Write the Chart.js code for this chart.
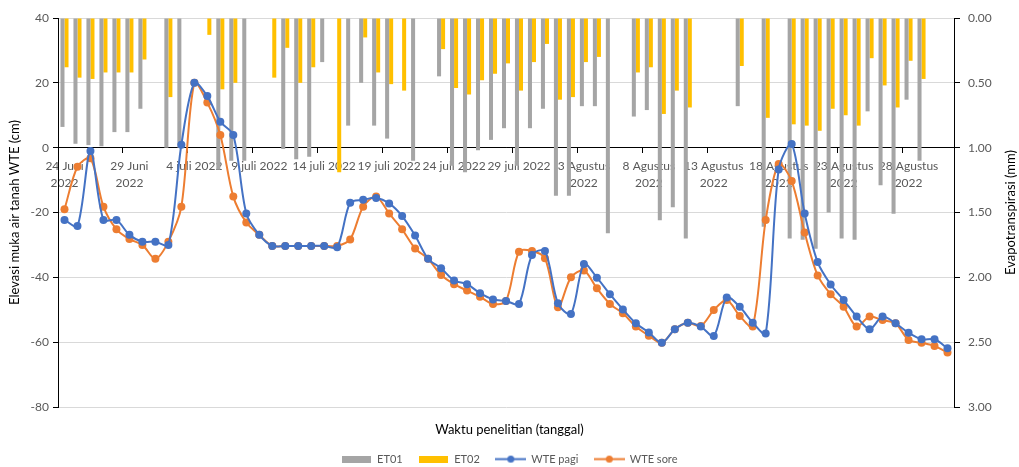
<!DOCTYPE html>
<html>
<head>
<meta charset="utf-8">
<script src="https://cdn.jsdelivr.net/npm/chart.js@4.4.0/dist/chart.umd.min.js"></script>
<style>
  html, body { margin: 0; padding: 0; background: #fff; }
  #wrap { position: relative; width: 1019px; height: 467px; }
</style>
</head>
<body>
<div id="wrap"><canvas id="chart"></canvas></div>
<script>
// Categories: one per day, 24 Juni - 31 Agustus 2022
const months = [['Juni', 24, 30], ['juli', 1, 31], ['Agustus', 1, 31]];
const days = [];
months.forEach(([m, from, to]) => {
  for (let d = from; d <= to; d++) days.push(d + ' ' + m + ' 2022');
});

// Labels shown every 5th day
const tickLabels = [
  ['24 Juni', '2022'], ['29 Juni', '2022'], '4 juli 2022', '9 juli 2022',
  '14 juli 2022', '19 juli 2022', '24 juli 2022', '29 juli 2022',
  ['3 Agustus', '2022'], ['8 Agustus', '2022'], ['13 Agustus', '2022'],
  ['18 Agustus', '2022'], ['23 Agustus', '2022'], ['28 Agustus', '2022']
];

// Evapotranspirasi (mm)
const et01 = [
  0.84, 0.97, 0.98, 0.99, 0.88, 0.88, 0.70, null, 1.00, 1.00,
  null, null, 1.17, 1.10, 1.10, null, null, 1.01, 1.09, 1.07,
  0.34, null, 0.83, 0.50, 0.83, 0.93, null, 1.10, null, 0.45,
  1.14, 1.19, 1.02, 0.94, 0.85, 1.14, 0.85, 0.70, 1.37, 1.37,
  0.68, 0.68, 1.66, null, 0.76, 0.71, 1.56, 1.46, 1.70, null,
  null, null, 0.68, null, 1.61, null, 1.70, 1.71, 1.78, 1.50,
  1.70, 1.71, 0.72, 1.29, 1.51, 0.63, 1.10, null, null
];
const et02 = [
  0.38, 0.46, 0.47, 0.42, 0.42, 0.42, 0.32, null, 0.61, null,
  null, 0.13, 0.55, 0.50, null, null, 0.46, 0.23, 0.50, 0.38,
  null, 1.19, null, 0.15, 0.42, 0.51, 0.56, null, null, 0.24,
  0.54, 0.59, 0.48, 0.43, 0.35, 0.56, 0.34, 0.20, 0.63, 0.61,
  0.34, 0.30, null, null, 0.42, 0.38, 0.74, 0.56, 0.69, null,
  null, null, 0.37, null, 0.77, null, 0.82, 0.83, 0.87, 0.70,
  0.75, 0.83, 0.31, 0.52, 0.69, 0.33, 0.47, null, null
];

// Elevasi muka air tanah (cm)
const wtePagi = [
  -22.3, -24.2, -1.0, -22.3, -22.3, -26.9, -29.0, -29.0, -30.0, 0.9,
  20.0, 15.9, 8.0, 3.9, -20.3, -26.9, -30.3, -30.3, -30.3, -30.3,
  -30.3, -30.7, -17.0, -16.1, -15.5, -17.2, -21.1, -27.1, -34.3, -37.2,
  -41.0, -42.1, -44.9, -46.8, -47.3, -48.2, -33.1, -31.9, -48.0, -51.3,
  -35.9, -40.1, -45.2, -49.9, -54.2, -57.0, -60.2, -56.0, -54.0, -55.2,
  -58.1, -46.2, -49.1, -54.0, -57.3, -6.7, 1.1, -20.3, -35.3, -42.2,
  -47.0, -52.1, -56.0, -52.1, -54.2, -57.1, -59.1, -59.1, -61.9
];
const wteSore = [
  -19.0, -5.9, -3.3, -18.2, -25.2, -28.2, -30.0, -34.3, -29.0, -18.2,
  20.0, 13.9, 3.9, -15.1, -23.1, -26.9, -30.3, -30.3, -30.3, -30.3,
  -30.3, -30.3, -28.3, -18.2, -15.1, -20.3, -25.2, -31.1, -34.3, -39.3,
  -42.1, -44.1, -46.0, -48.2, -47.3, -32.1, -31.9, -34.1, -49.2, -40.0,
  -37.9, -43.4, -48.2, -51.1, -55.2, -58.0, -60.2, -56.0, -54.0, -55.0,
  -50.1, -47.0, -51.9, -55.2, -22.3, -5.0, -10.3, -26.2, -39.4, -45.2,
  -49.1, -55.2, -52.1, -53.2, -54.2, -59.3, -60.2, -61.2, -63.2
];

const FONT = "Lato, 'Open Sans', sans-serif";
const GRAY = '#a5a5a5', YELLOW = '#ffc000', BLUE = '#4472c4', ORANGE = '#ed7d31';

// legend keys: wide rectangle for bars, line with marker for lines
function rectKey(color) {
  const c = document.createElement('canvas');
  c.width = 29; c.height = 7;
  const g = c.getContext('2d');
  g.fillStyle = color;
  g.fillRect(0, 0, 29, 7);
  return c;
}
function lineKey(color) {
  const c = document.createElement('canvas');
  c.width = 31; c.height = 9;
  const g = c.getContext('2d');
  g.strokeStyle = color; g.lineWidth = 2;
  g.beginPath(); g.moveTo(0, 4.5); g.lineTo(31, 4.5); g.stroke();
  g.fillStyle = color;
  g.beginPath(); g.arc(15.5, 4.5, 3.5, 0, Math.PI * 2); g.fill();
  return c;
}
const legendKeys = [rectKey(GRAY), rectKey(YELLOW), lineKey(BLUE), lineKey(ORANGE)];

// right axis title reads bottom-to-top like the left one
const rightTitle = {
  id: 'rightTitle',
  afterDraw(chart) {
    const { ctx, chartArea } = chart;
    ctx.save();
    ctx.translate(chart.scales.y1.right - 8, (chartArea.top + chartArea.bottom) / 2);
    ctx.rotate(-Math.PI / 2);
    ctx.font = '13px ' + FONT;
    ctx.fillStyle = '#000';
    ctx.textAlign = 'center';
    ctx.textBaseline = 'middle';
    ctx.fillText('Evapotranspirasi (mm)', 0, 0);
    ctx.restore();
  }
};

const lineStyle = (color) => ({
  type: 'line',
  yAxisID: 'y',
  order: 0,
  borderColor: color,
  backgroundColor: color,
  borderWidth: 2,
  pointRadius: 4,
  pointBorderWidth: 0,
  pointBackgroundColor: color,
  tension: 0.3
});

new Chart(document.getElementById('chart'), {
  type: 'bar',
  data: {
    labels: days,
    datasets: [
      { label: 'ET01', data: et01, yAxisID: 'y1', order: 1, backgroundColor: GRAY,
        barPercentage: 1, categoryPercentage: 0.62 },
      { label: 'ET02', data: et02, yAxisID: 'y1', order: 1, backgroundColor: YELLOW,
        barPercentage: 1, categoryPercentage: 0.62 },
      { label: 'WTE pagi', data: wtePagi, ...lineStyle(BLUE) },
      { label: 'WTE sore', data: wteSore, ...lineStyle(ORANGE) }
    ]
  },
  options: {
    responsive: true,
    maintainAspectRatio: false,
    animation: false,
    layout: { padding: { top: 18, left: 0, right: 0, bottom: -7.6 } },
    scales: {
      x: {
        position: { y: 0 },
        offset: true,
        grid: {
          offset: true,
          drawOnChartArea: false,
          tickLength: 5,
          color: (ctx) => ctx.index % 5 === 0 ? '#000' : 'rgba(0,0,0,0)'
        },
        border: { color: '#000', width: 1 },
        ticks: {
          autoSkip: false,
          maxRotation: 0,
          minRotation: 0,
          padding: 5,
          color: '#595959',
          font: { family: FONT, size: 12, lineHeight: 1.4 },
          callback: (v, i) => i % 5 === 0 ? tickLabels[i / 5] : ''
        }
      },
      y: {
        position: 'left',
        min: -80,
        max: 40,
        ticks: { stepSize: 20, padding: 4, color: '#595959', font: { family: FONT, size: 12 } },
        grid: {
          color: (ctx) => ctx.tick && ctx.tick.value === 0 ? '#000' : '#d9d9d9',
          tickColor: '#000',
          tickLength: 5
        },
        border: { color: '#000', width: 1 },
        title: {
          display: true,
          text: 'Elevasi muka air tanah WTE (cm)',
          color: '#000',
          font: { family: FONT, size: 13 },
          padding: { top: 7, bottom: 0 }
        },
        afterFit: (scale) => { scale.width = 58; }
      },
      y1: {
        position: 'right',
        reverse: true,
        min: 0,
        max: 3,
        ticks: {
          stepSize: 0.5,
          padding: 8,
          color: '#595959',
          font: { family: FONT, size: 12 },
          callback: (v) => Number(v).toFixed(2)
        },
        grid: { drawOnChartArea: false, tickColor: '#000', tickLength: 6 },
        border: { color: '#000', width: 1 },
        afterFit: (scale) => { scale.width = 65; }
      }
    },
    plugins: {
      tooltip: { enabled: false },
      title: {
        display: true,
        position: 'bottom',
        weight: 500,
        text: 'Waktu penelitian (tanggal)',
        color: '#000',
        font: { family: FONT, size: 13, weight: 'normal' },
        padding: { top: 15, bottom: 0 }
      },
      legend: {
        position: 'bottom',
        labels: {
          usePointStyle: true,
          pointStyleWidth: 30,
          padding: 16,
          color: '#595959',
          font: { family: FONT, size: 11 },
          sort: (a, b) => a.datasetIndex - b.datasetIndex,
          generateLabels: (chart) => Chart.defaults.plugins.legend.labels.generateLabels(chart)
            .map((item) => Object.assign(item, { pointStyle: legendKeys[item.datasetIndex] }))
        }
      }
    }
  },
  plugins: [rightTitle]
});
</script>
</body>
</html>
